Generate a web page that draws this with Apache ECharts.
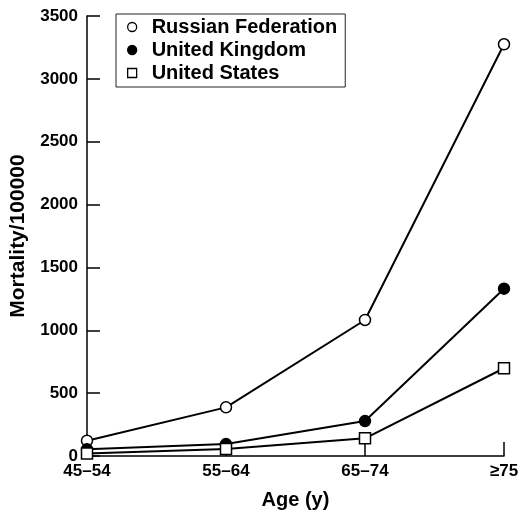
<!DOCTYPE html>
<html>
<head>
<meta charset="utf-8">
<script src="https://cdn.jsdelivr.net/npm/echarts@6/dist/echarts.min.js"></script>
<style>
  * { margin: 0; padding: 0; }
  body { background: #fff; }
</style>
</head>
<body>
<!-- chart container -->
<div id="main" style="width: 522px; height: 510px;"></div>
<script>
var ageGroups = ["45–54", "55–64", "65–74", "≥75"];
var russia = [122, 387, 1082, 3275];
var uk = [53, 95, 278, 1331];
var us = [20, 56, 141, 698];
var yTicks = [0, 500, 1000, 1500, 2000, 2500, 3000, 3500];

var font = "Liberation Sans, Arial, Helvetica, sans-serif";

function lineSeries(name, data, symbol, fill) {
  return {
    name: name,
    type: "line",
    data: data,
    symbol: symbol,
    symbolSize: 11,
    lineStyle: { color: "#000", width: 2 },
    itemStyle: { color: fill, borderColor: "#000", borderWidth: 1.5 },
    emphasis: { disabled: true },
    z: 3
  };
}

var chart = echarts.init(document.getElementById("main"));
chart.setOption({
  animation: false,
  backgroundColor: "#fff",
  textStyle: { fontFamily: font },
  grid: { left: 87, right: 18, top: 16, bottom: 54, containLabel: false, outerBoundsMode: "none" },
  legend: {
    orient: "vertical",
    left: 116,
    top: 14,
    padding: [3, 8, 4, 11],
    itemGap: 3,
    itemWidth: 9,
    itemHeight: 9,
    borderColor: "#222",
    borderWidth: 1,
    selectedMode: false,
    textStyle: {
      fontFamily: font,
      fontSize: 20,
      fontWeight: "bold",
      color: "#000",
      lineHeight: 20,
      padding: [0, 0, 0, 10]
    },
    data: [
      { name: "Russian Federation", icon: "circle", itemStyle: { color: "#fff", borderColor: "#000", borderWidth: 1.3 } },
      { name: "United Kingdom", icon: "circle", itemStyle: { color: "#000", borderColor: "#000", borderWidth: 1.3 } },
      { name: "United States", icon: "rect", itemStyle: { color: "#fff", borderColor: "#000", borderWidth: 1.3 } }
    ]
  },
  xAxis: {
    type: "category",
    data: ageGroups,
    boundaryGap: false,
    name: "Age (y)",
    nameLocation: "middle",
    nameGap: 34,
    nameTextStyle: { fontFamily: font, fontSize: 20, fontWeight: "bold", color: "#000" },
    axisLine: { lineStyle: { color: "#000", width: 1.5 } },
    axisTick: { inside: true, length: 14, alignWithLabel: true, lineStyle: { color: "#000", width: 1.5 } },
    axisLabel: { fontFamily: font, fontSize: 17, fontWeight: "bold", color: "#000", margin: 7 },
    splitLine: { show: false }
  },
  yAxis: {
    type: "value",
    min: yTicks[0],
    max: yTicks[yTicks.length - 1],
    interval: yTicks[1] - yTicks[0],
    name: "Mortality/100000",
    nameLocation: "middle",
    nameGap: 58,
    nameTextStyle: { fontFamily: font, fontSize: 21, fontWeight: "bold", color: "#000" },
    axisLine: { show: true, lineStyle: { color: "#000", width: 1.5 } },
    axisTick: { show: true, inside: true, length: 13, lineStyle: { color: "#000", width: 1.5 } },
    axisLabel: {
      fontFamily: font, fontSize: 17, fontWeight: "bold", color: "#000", margin: 9,
      formatter: function (v) { return String(v); }
    },
    splitLine: { show: false }
  },
  series: [
    lineSeries("Russian Federation", russia, "circle", "#fff"),
    lineSeries("United Kingdom", uk, "circle", "#000"),
    lineSeries("United States", us, "rect", "#fff")
  ]
});
</script>
</body>
</html>
